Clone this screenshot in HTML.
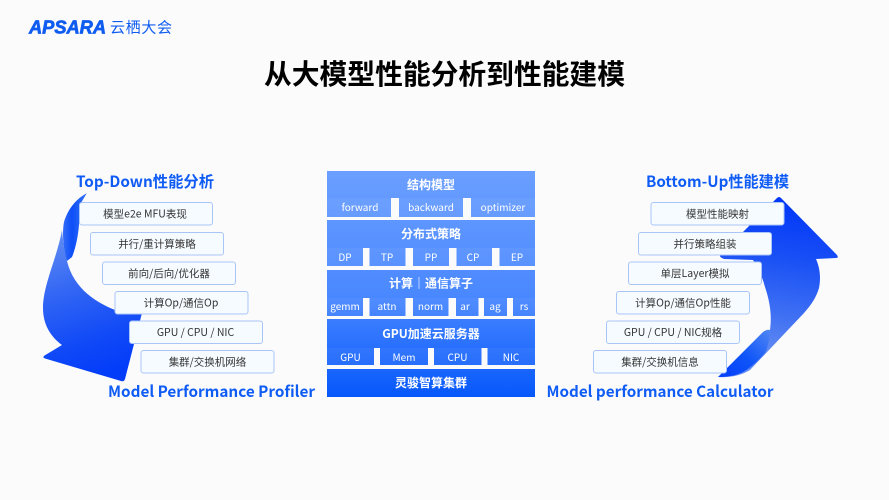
<!DOCTYPE html>
<html><head><meta charset="utf-8">
<style>
html,body{margin:0;padding:0;background:#fbfbfc}
svg{display:block}
text{font-family:"Noto Sans CJK SC","Liberation Sans",sans-serif}
.b{fill:#0f5cf5;font-weight:700;font-size:15.5px}
.box{fill:#f6fbff;stroke:#a9c5f8;stroke-width:1}
.bt{fill:#333;font-size:10.5px;text-anchor:middle}
.h{fill:#fff;font-size:12px;font-weight:700;text-anchor:middle}
.s{fill:#fff;font-size:10px;text-anchor:middle}
.g{fill:#fbfbfc}
</style></head><body>
<svg width="889" height="500" viewBox="0 0 889 500" xmlns="http://www.w3.org/2000/svg">
<defs>
<linearGradient id="p" x1="0" y1="171" x2="0" y2="397" gradientUnits="userSpaceOnUse"><stop offset="0" stop-color="#6b9fff"/><stop offset=".55" stop-color="#4a88ff"/><stop offset="1" stop-color="#0758fb"/></linearGradient>
<linearGradient id="la" x1="60" y1="235" x2="105" y2="375" gradientUnits="userSpaceOnUse"><stop offset="0" stop-color="#5f8bf2"/><stop offset=".35" stop-color="#3568f4"/><stop offset=".75" stop-color="#1049f7"/><stop offset="1" stop-color="#033cf9"/></linearGradient>
<linearGradient id="lf" x1="62" y1="225" x2="82" y2="225" gradientUnits="userSpaceOnUse"><stop offset="0" stop-color="#3a70f5"/><stop offset=".5" stop-color="#0c4ef8"/><stop offset="1" stop-color="#2a68f6"/></linearGradient>
<linearGradient id="ra" x1="790" y1="205" x2="765" y2="350" gradientUnits="userSpaceOnUse"><stop offset="0" stop-color="#0338f8"/><stop offset=".35" stop-color="#184ff5"/><stop offset=".75" stop-color="#3f70f3"/><stop offset="1" stop-color="#6089f1"/></linearGradient>
<linearGradient id="rf" x1="770" y1="330" x2="730" y2="375" gradientUnits="userSpaceOnUse"><stop offset="0" stop-color="#4f86f3"/><stop offset=".6" stop-color="#0f55f8"/><stop offset="1" stop-color="#0644fa"/></linearGradient>
</defs>
<rect width="889" height="500" fill="#fbfbfc"/>

<!-- logo -->
<text x="29" y="33.500" font-size="18" font-weight="700" font-style="italic" fill="#0f5cf0" textLength="77" lengthAdjust="spacingAndGlyphs" style="font-family:'Liberation Sans',sans-serif;stroke:#0f5cf0;stroke-width:.7">APSARA</text>
<text x="110" y="32.500" font-size="15" fill="#0f5cf0" textLength="62">云栖大会</text>

<!-- title -->
<text x="444.500" y="84" font-size="27.800" font-weight="700" fill="#000" text-anchor="middle" textLength="361">从大模型性能分析到性能建模</text>

<!-- left arrow -->
<path d="M86.700 193.300C76 199 68 209 64 222C62 232 63 250 67 261L72 257C75 250 78 238 79 225L81 203Z" fill="url(#lf)"/>
<path d="M62 230C57 258 43 285 43 308C43 325 51 337 62 345L44.500 355.500Q42 357.500 45 358.500L121 381Q124 382 125 379L142 313L115 310C98 303 74 290 67 261C64 252 63 240 62 230Z" fill="url(#la)"/>

<!-- right arrow -->
<path d="M777 198Q779 196 781 198L837 255Q839 258 836 258L816 259C820 268 821 278 819 288C816 298 811 305 804 313L750 370C742 375 730 378 718 377C735 365 752 348 770 330C772 315 770 302 765 287C762 276 758 267 753 260L724 259Q718 257 721 254L743 232Z" fill="url(#ra)"/>
<path d="M718 377L763 332Q767 329 770 330C769 340 768 347 765 353C758 361 750 368 743 372C735 376 727 377 718 377Z" fill="url(#rf)"/>

<!-- left boxes -->
<rect class="box" x="79.500" y="202.500" width="133" height="22.500" rx="2.500"/><text class="bt" x="145" y="217.500">模型e2e MFU表现</text>
<rect class="box" x="90.500" y="232.500" width="133" height="22.500" rx="2.500"/><text class="bt" x="157" y="247.500">并行/重计算策略</text>
<rect class="box" x="102.500" y="262" width="133" height="22.500" rx="2.500"/><text class="bt" x="169" y="277">前向/后向/优化器</text>
<rect class="box" x="115" y="291.500" width="133" height="22.500" rx="2.500"/><text class="bt" x="181" y="306.500">计算Op/通信Op</text>
<rect class="box" x="129.500" y="321" width="133" height="22.500" rx="2.500"/><text class="bt" x="195.500" y="336">GPU / CPU / NIC</text>
<rect class="box" x="141" y="350.500" width="133" height="22.500" rx="2.500"/><text class="bt" x="207.500" y="365.500">集群/交换机网络</text>

<!-- right boxes -->
<rect class="box" x="651" y="202.500" width="133" height="22.500" rx="2.500"/><text class="bt" x="717.500" y="217.500">模型性能映射</text>
<rect class="box" x="638.500" y="232.500" width="133" height="22.500" rx="2.500"/><text class="bt" x="705" y="247.500">并行策略组装</text>
<rect class="box" x="628.500" y="262" width="133" height="22.500" rx="2.500"/><text class="bt" x="695" y="277">单层Layer模拟</text>
<rect class="box" x="616.500" y="291.500" width="133" height="22.500" rx="2.500"/><text class="bt" x="683" y="306.500">计算Op/通信Op性能</text>
<rect class="box" x="606.500" y="321" width="133" height="22.500" rx="2.500"/><text class="bt" x="673" y="336">GPU / CPU / NIC规格</text>
<rect class="box" x="593.500" y="350.500" width="133" height="22.500" rx="2.500"/><text class="bt" x="660" y="365.500">集群/交换机信息</text>

<!-- side headings -->
<text class="b" x="76" y="187" textLength="138" lengthAdjust="spacingAndGlyphs">Top-Down性能分析</text>
<text class="b" x="646" y="187" textLength="143" lengthAdjust="spacingAndGlyphs">Bottom-Up性能建模</text>
<text class="b" x="108" y="397" textLength="207" lengthAdjust="spacingAndGlyphs">Model Performance Profiler</text>
<text class="b" x="546.500" y="397" textLength="227" lengthAdjust="spacingAndGlyphs">Model performance Calculator</text>

<!-- center stack -->
<rect x="327" y="171" width="208" height="46" fill="url(#p)"/>
<rect x="327" y="220" width="208" height="46" fill="url(#p)"/>
<rect x="327" y="270" width="208" height="46" fill="url(#p)"/>
<rect x="327" y="319" width="208" height="46" fill="url(#p)"/>
<rect x="327" y="369" width="208" height="28" fill="url(#p)"/>

<rect x="327" y="198" width="208" height="19" fill="#fff" opacity=".05"/>
<rect x="327" y="248" width="208" height="18" fill="#fff" opacity=".05"/>
<rect x="327" y="298" width="208" height="18" fill="#fff" opacity=".05"/>
<rect x="327" y="348" width="208" height="17" fill="#fff" opacity=".05"/>

<rect class="g" x="391" y="198" width="8" height="19"/><rect class="g" x="463" y="198" width="8" height="19"/>
<rect class="g" x="363" y="248" width="6.500" height="18"/><rect class="g" x="405.500" y="248" width="7.500" height="18"/><rect class="g" x="449" y="248" width="7.500" height="18"/><rect class="g" x="492" y="248" width="7.500" height="18"/>
<rect class="g" x="363" y="298" width="6.500" height="18"/><rect class="g" x="405.500" y="298" width="7.500" height="18"/><rect class="g" x="448.500" y="298" width="7.500" height="18"/><rect class="g" x="478.500" y="298" width="5.500" height="18"/><rect class="g" x="507" y="298" width="6" height="18"/>
<rect class="g" x="374" y="348" width="6" height="17"/><rect class="g" x="428" y="348" width="6" height="17"/><rect class="g" x="481.500" y="348" width="6" height="17"/>

<text class="h" x="431" y="189">结构模型</text>
<text class="h" x="431" y="238">分布式策略</text>
<text class="h" x="431" y="287.500">计算｜通信算子</text>
<text class="h" x="431" y="338">GPU加速云服务器</text>
<text class="h" x="431" y="387">灵骏智算集群</text>

<text class="s" x="360" y="211">forward</text><text class="s" x="431" y="211">backward</text><text class="s" x="503" y="211">optimizer</text>
<text class="s" x="345" y="261">DP</text><text class="s" x="387" y="261">TP</text><text class="s" x="431" y="261">PP</text><text class="s" x="473" y="261">CP</text><text class="s" x="517" y="261">EP</text>
<text class="s" x="345" y="310">gemm</text><text class="s" x="387" y="310">attn</text><text class="s" x="430.500" y="310">norm</text><text class="s" x="465" y="310">ar</text><text class="s" x="495" y="310">ag</text><text class="s" x="524" y="310">rs</text>
<text class="s" x="350.500" y="361">GPU</text><text class="s" x="404" y="361">Mem</text><text class="s" x="457.500" y="361">CPU</text><text class="s" x="511" y="361">NIC</text>
</svg>
</body></html>
